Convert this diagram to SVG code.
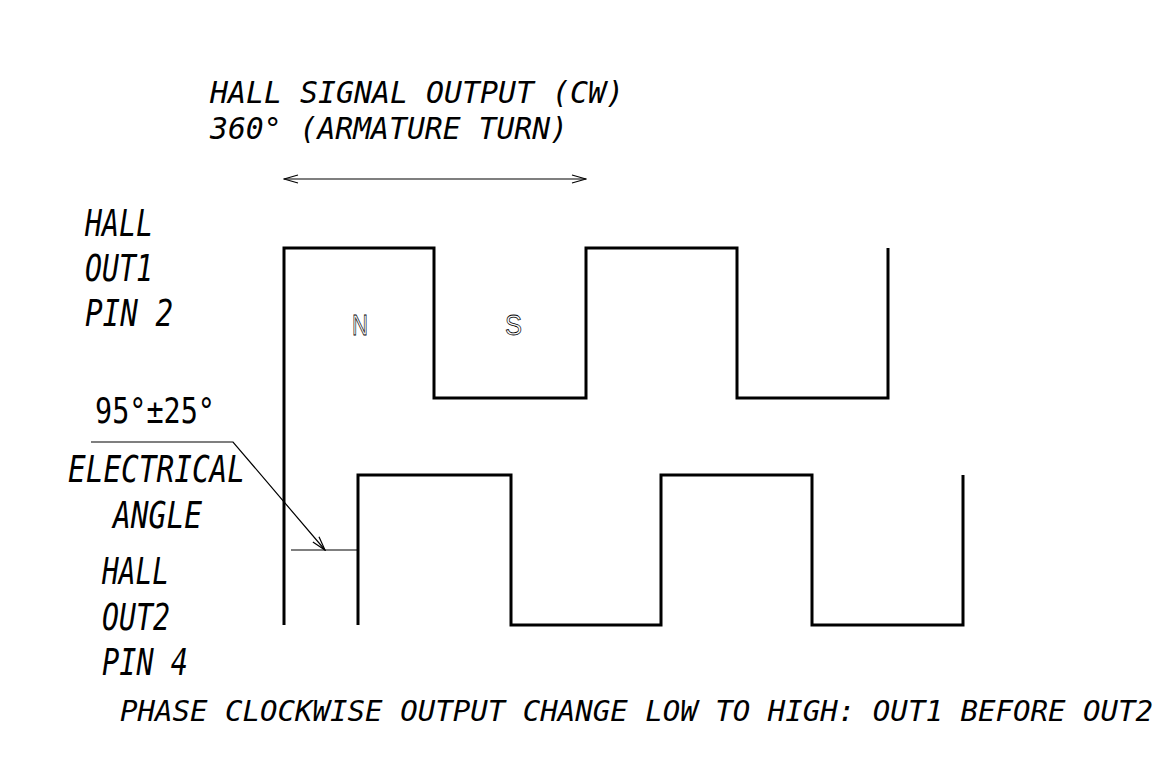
<svg xmlns="http://www.w3.org/2000/svg" width="1170" height="764" viewBox="0 0 1170 764">
<style>
  .t { font-family: "DejaVu Sans Mono", "Liberation Mono", monospace; font-style: italic; fill: #000; }
  .up { font-style: normal; }
  .wave { fill: none; stroke: #000; stroke-width: 3; stroke-linejoin: miter; }
  .thin { fill: none; stroke: #000; stroke-width: 1.2; }
  .pole { font-family: "Liberation Sans", Arial, sans-serif; fill: none; stroke: #000; stroke-width: 0.8; }
</style>
<defs>
  <marker id="open" viewBox="0 0 16 10" refX="15" refY="5" markerWidth="16" markerHeight="10" markerUnits="userSpaceOnUse" orient="auto-start-reverse">
    <path d="M1,1 L15,5 L1,9" fill="none" stroke="#000" stroke-width="1.2"/>
  </marker>
</defs>
<rect width="1170" height="764" fill="#fff"/>

<g id="title">
  <text class="t" x="210" y="103" font-size="30" textLength="414" lengthAdjust="spacingAndGlyphs">HALL SIGNAL OUTPUT (CW)</text>
  <text class="t" x="210" y="139" font-size="30" textLength="358" lengthAdjust="spacingAndGlyphs">360° (ARMATURE TURN)</text>
</g>

<g id="label-out1">
  <text class="t" x="85" y="236" font-size="38" textLength="68" lengthAdjust="spacingAndGlyphs">HALL</text>
  <text class="t" x="85" y="281" font-size="38" textLength="68" lengthAdjust="spacingAndGlyphs">OUT1</text>
  <text class="t" x="85" y="326" font-size="38" textLength="88" lengthAdjust="spacingAndGlyphs">PIN 2</text>
</g>

<g id="label-angle">
  <text class="t up" x="95" y="423" font-size="35" textLength="120" lengthAdjust="spacingAndGlyphs">95°±25°</text>
  <text class="t" x="68" y="482" font-size="37" textLength="177" lengthAdjust="spacingAndGlyphs">ELECTRICAL</text>
  <text class="t" x="113" y="528" font-size="37" textLength="89" lengthAdjust="spacingAndGlyphs">ANGLE</text>
</g>

<g id="label-out2">
  <text class="t" x="102" y="584" font-size="37" textLength="67" lengthAdjust="spacingAndGlyphs">HALL</text>
  <text class="t" x="102" y="630" font-size="37" textLength="68" lengthAdjust="spacingAndGlyphs">OUT2</text>
  <text class="t" x="102" y="675" font-size="37" textLength="86" lengthAdjust="spacingAndGlyphs">PIN 4</text>
</g>

<g id="wave-out1">
  <path class="wave" d="M284,625 V248 H434 V398 H586 V248 H737 V398 H888 V248"/>
  <text class="pole" x="352" y="335" font-size="30" textLength="16" lengthAdjust="spacingAndGlyphs">N</text>
  <text class="pole" x="505" y="335" font-size="30" textLength="17" lengthAdjust="spacingAndGlyphs">S</text>
</g>

<g id="wave-out2">
  <path class="wave" d="M358,625 V475 H511 V625 H661 V475 H812 V625 H963 V475"/>
</g>

<g id="connectors">
  <line class="thin" x1="284" y1="179" x2="586" y2="179" marker-start="url(#open)" marker-end="url(#open)"/>
  <polyline class="thin" points="91,442 233,442 325,550" marker-end="url(#open)"/>
  <line class="thin" x1="291" y1="550" x2="358" y2="550"/>
</g>

<g id="footer">
  <text class="t" x="120" y="721" font-size="29" textLength="1033" lengthAdjust="spacingAndGlyphs">PHASE CLOCKWISE OUTPUT CHANGE LOW TO HIGH: OUT1 BEFORE OUT2</text>
</g>
</svg>
